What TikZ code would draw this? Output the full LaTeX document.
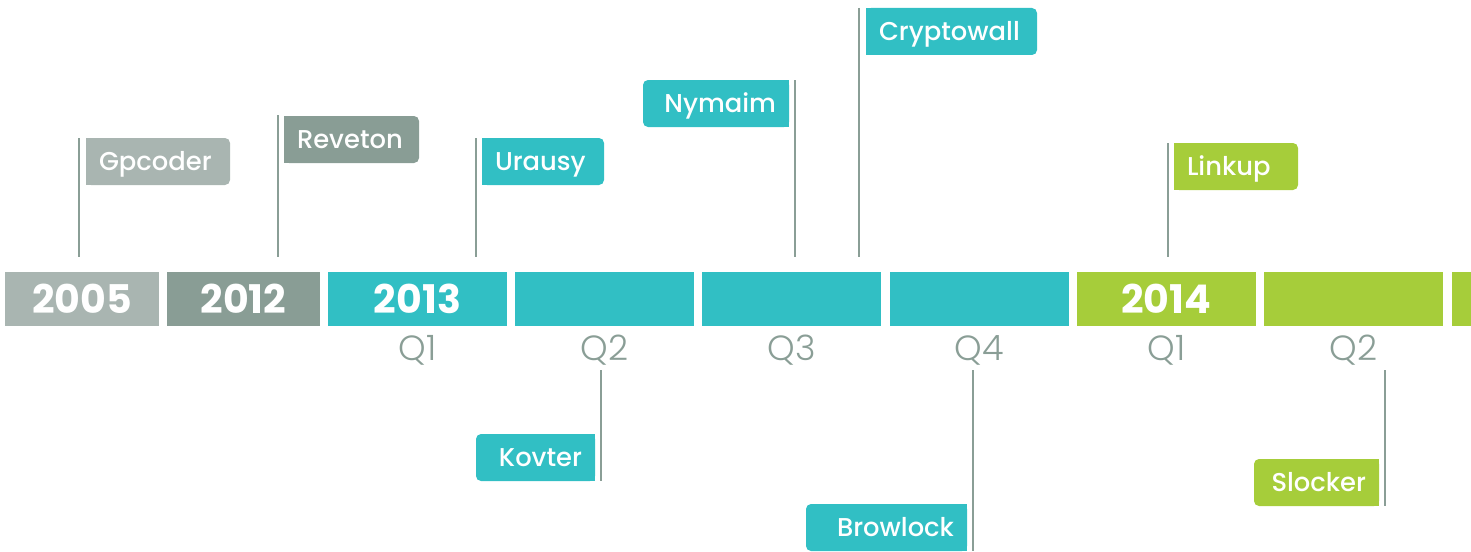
\documentclass[tikz,border=0pt]{standalone}
\usepackage{fontspec}
\setmainfont{Poppins}
\newfontfamily\lightfont{Poppins Light}
\newfontfamily\medfont{Poppins Medium}
\usetikzlibrary{backgrounds}
\definecolor{teal1}{HTML}{31BFC4}
\definecolor{gray1}{HTML}{A9B5B1}
\definecolor{gray2}{HTML}{899D95}
\definecolor{green1}{HTML}{A6CD3A}
\definecolor{polec}{HTML}{8A9E96}
\begin{document}
\begin{tikzpicture}[x=1pt,y=-1pt,
  seg/.style={minimum width=179pt, minimum height=54pt, inner sep=0pt, text=white,
    font=\fontsize{39.5}{39.5}\selectfont\bfseries},
  qlab/.style={text=polec, font=\lightfont\fontsize{35}{35}\selectfont, inner sep=0pt},
  flagbox/.style={minimum height=47pt, inner xsep=13pt, inner ysep=0pt, text=white,
    rounded corners=5pt, font=\medfont\fontsize{25.8}{25.8}\selectfont,
    text height=18pt, text depth=0pt},
  flagL/.style={flagbox, align=left},
  flagR/.style={flagbox, align=right},
  pole/.style={draw=polec, line width=2pt},
]
\useasboundingbox (0,0) rectangle (1471,551);

% bar segments
\node[seg, fill=gray1, minimum width=154pt] (y2005) at (82,299) {2005};
\node[seg, fill=gray2, minimum width=153pt] (y2012) at (243.5,299) {2012};
\node[seg, fill=teal1] (y2013) at (417.5,299) {2013};
\node[seg, fill=teal1] (q2a) at (604.7,299) {};
\node[seg, fill=teal1] (q3a) at (791.9,299) {};
\node[seg, fill=teal1] (q4a) at (979.1,299) {};
\node[seg, fill=green1] (y2014) at (1166.3,299) {2014};
\node[seg, fill=green1] (q2b) at (1353.5,299) {};
\node[seg, fill=green1, minimum width=19pt] (q3b) at (1461.5,299) {};

% quarter labels
\node[qlab] (lq1a) at (417.5,350) {Q1};
\node[qlab] (lq2a) at (604.7,350) {Q2};
\node[qlab] (lq3a) at (791.9,350) {Q3};
\node[qlab] (lq4a) at (979.1,350) {Q4};
\node[qlab] (lq1b) at (1166.3,350) {Q1};
\node[qlab] (lq2b) at (1353.5,350) {Q2};

% flags
\node[flagL, fill=gray1, text width=118pt] (gp) at (158,161.5) {Gpcoder};
\node[flagL, fill=gray2, text width=109pt] (rv) at (351.5,139.5) {Reveton};
\node[flagL, fill=teal1, text width=96pt] (ur) at (543,161.5) {Urausy};
\node[flagR, fill=teal1, text width=120pt] (ny) at (716,103.5) {Nymaim};
\node[flagL, fill=teal1, text width=145pt] (cw) at (951.5,31.5) {Cryptowall};
\node[flagL, fill=green1, text width=98pt] (lk) at (1236,166.5) {Linkup};
\node[flagR, fill=teal1, text width=93pt] (kv) at (535.5,457.5) {Kovter};
\node[flagR, fill=teal1, text width=135pt] (bl) at (886.5,527.5) {Browlock};
\node[flagR, fill=green1, text width=99pt] (sl) at (1316.5,482.5) {Slocker};

\begin{pgfonlayer}{background}
  \fill[gray1] (gp.north west) rectangle (gp.south);
  \fill[gray2] (rv.north west) rectangle (rv.south);
  \fill[teal1] (ur.north west) rectangle (ur.south);
  \fill[teal1] (ny.north) rectangle (ny.south east);
  \fill[teal1] (cw.north west) rectangle (cw.south);
  \fill[green1] (lk.north west) rectangle (lk.south);
  \fill[teal1] (kv.north) rectangle (kv.south east);
  \fill[teal1] (bl.north) rectangle (bl.south east);
  \fill[green1] (sl.north) rectangle (sl.south east);
\end{pgfonlayer}

% poles
\coordinate (gpT) at (79,138);   \coordinate (gpB) at (79,257);
\coordinate (rvT) at (278,115);  \coordinate (rvB) at (278,257);
\coordinate (urT) at (476,138);  \coordinate (urB) at (476,257);
\coordinate (nyT) at (795,80);   \coordinate (nyB) at (795,257);
\coordinate (cwT) at (859,8);    \coordinate (cwB) at (859,257);
\coordinate (lkT) at (1168,143); \coordinate (lkB) at (1168,257);
\coordinate (kvT) at (601,370);  \coordinate (kvB) at (601,481);
\coordinate (blT) at (973,370);  \coordinate (blB) at (973,551);
\coordinate (slT) at (1385,370); \coordinate (slB) at (1385,506);
\foreach \p in {gp,rv,ur,ny,cw,lk,kv,bl,sl}{
  \draw[pole] (\p T) -- (\p B);
}
\end{tikzpicture}
\end{document}
